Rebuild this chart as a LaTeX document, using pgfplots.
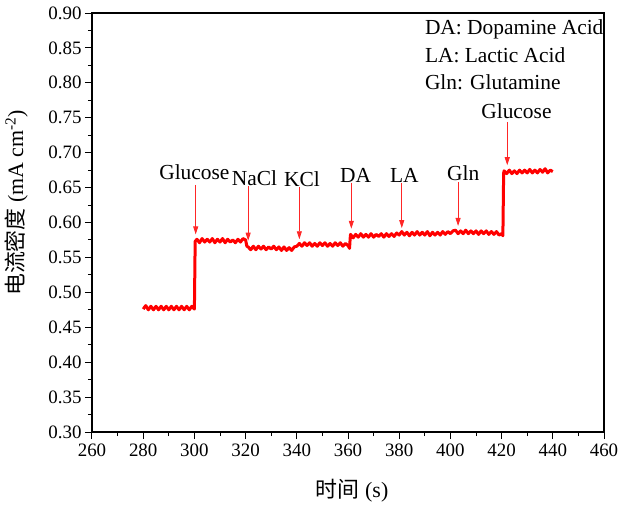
\documentclass[border=0pt]{standalone}
\usepackage{fontspec}
\setmainfont{Liberation Serif}
\newfontfamily\cjk{Noto Sans CJK SC}
\usepackage{pgfplots}
\pgfplotsset{compat=1.18}
\usetikzlibrary{arrows.meta}

% i-t response: current density vs time
\pgfplotstableread{
t j
280 0.476
281 0.481
282 0.475
283 0.480
284 0.475
285 0.480
286 0.475
287 0.480
288 0.475
289 0.480
290 0.475
291 0.480
292 0.475
293 0.480
294 0.475
295 0.480
296 0.475
297 0.480
298 0.475
299 0.480
300 0.476
300.3 0.573
301 0.576
302 0.571
303 0.577
304 0.572
305 0.576
306 0.572
307 0.577
308 0.571
309 0.576
310 0.572
311 0.577
312 0.571
313 0.576
314 0.572
315 0.575
316 0.571
317 0.576
318 0.572
319 0.577
320 0.575
320.5 0.566
321 0.565
322 0.561
323 0.566
324 0.561
325 0.566
326 0.562
327 0.566
328 0.561
329 0.565
330 0.562
331 0.566
332 0.561
333 0.565
334 0.560
335 0.565
336 0.560
337 0.564
338 0.560
339 0.565
340 0.566
341 0.570
342 0.566
343 0.571
344 0.567
345 0.571
346 0.566
347 0.570
348 0.566
349 0.571
350 0.567
351 0.571
352 0.566
353 0.570
354 0.566
355 0.571
356 0.567
357 0.571
358 0.566
359 0.570
360 0.567
360.6 0.563
360.9 0.580
361 0.583
362 0.578
363 0.583
364 0.579
365 0.584
366 0.579
367 0.583
368 0.579
369 0.584
370 0.579
371 0.583
372 0.580
373 0.584
374 0.579
375 0.584
376 0.580
377 0.584
378 0.580
379 0.585
380 0.582
381 0.587
382 0.582
383 0.586
384 0.581
385 0.586
386 0.582
387 0.587
388 0.582
389 0.586
390 0.582
391 0.587
392 0.581
393 0.586
394 0.582
395 0.586
396 0.582
397 0.587
398 0.583
399 0.587
400 0.584
401 0.588
402 0.589
403 0.584
404 0.588
405 0.584
406 0.589
407 0.584
408 0.588
409 0.584
410 0.588
411 0.583
412 0.588
413 0.584
414 0.588
415 0.583
416 0.587
417 0.583
418 0.587
419 0.582
420 0.584
420.5 0.581
420.8 0.671
421 0.674
422 0.670
423 0.675
424 0.670
425 0.674
426 0.670
427 0.675
428 0.671
429 0.675
430 0.671
431 0.676
432 0.671
433 0.675
434 0.671
435 0.676
436 0.672
437 0.677
438 0.671
439 0.675
440 0.673
}\itdata

\begin{document}
\begin{tikzpicture}
\path[use as bounding box] (-92bp,-73bp) rectangle (537bp,432bp);
\begin{axis}[
  scale only axis,
  width=512bp, height=419bp,
  xmin=260, xmax=460, ymin=0.30, ymax=0.90,
  xtick={260,280,...,460},
  xticklabels={260,280,300,320,340,360,380,400,420,440,460},
  ytick={0.30,0.35,...,0.901},
  yticklabels={0.30,0.35,0.40,0.45,0.50,0.55,0.60,0.65,0.70,0.75,0.80,0.85,0.90},
  minor x tick num=1, minor y tick num=1,
  tick align=outside,
  xtick pos=bottom, ytick pos=left,
  major tick length=7bp, minor tick length=4bp,
  axis line style={line width=1.2bp},
  every tick/.style={black, line width=1bp},
  every minor tick/.style={black, line width=1bp},
  ticklabel style={font=\rmfamily\fontsize{19}{22}\selectfont},
  xticklabel style={yshift=-1bp},
  xlabel={{\cjk 时间} (s)},
  ylabel={{\cjk 电流密度} (mA cm\textsuperscript{-2})},
  label style={font=\fontsize{22}{25}\selectfont},
  xlabel style={at={(axis description cs:0.508,0)}, anchor=center, yshift=-59bp},
  ylabel style={at={(axis description cs:-0.148,0.547)}, anchor=center},
]
\addplot[red, line width=3bp, line join=round] table[x=t, y=j] {\itdata};

% additions: arrows and labels
\begin{scope}[red!85!white, line width=0.8bp, -{Triangle[width=5bp,length=8bp]}]
\draw (axis cs:300.5,0.654) -- (axis cs:300.5,0.583);
\draw (axis cs:321,0.652) -- (axis cs:321,0.574);
\draw (axis cs:341,0.651) -- (axis cs:341,0.576);
\draw (axis cs:361.3,0.657) -- (axis cs:361.3,0.591);
\draw (axis cs:381,0.657) -- (axis cs:381,0.592);
\draw (axis cs:403,0.658) -- (axis cs:403,0.595);
\draw (axis cs:422.2,0.744) -- (axis cs:422.2,0.682);
\end{scope}
\begin{scope}[every node/.style={font=\fontsize{21.5}{24}\selectfont, inner sep=0pt}]
\node at (axis cs:300,0.672) {Glucose};
\node at (axis cs:323.5,0.664) {NaCl};
\node at (axis cs:342,0.662) {KCl};
\node at (axis cs:363,0.668) {DA};
\node at (axis cs:382,0.668) {LA};
\node at (axis cs:405,0.671) {Gln};
\node at (axis cs:425.8,0.760) {Glucose};
\node[anchor=west] at (axis cs:390,0.876) {DA: Dopamine Acid};
\node[anchor=west] at (axis cs:390,0.839) {LA: Lactic Acid};
\node[anchor=west] at (axis cs:390,0.801) {Gln: Glutamine};
\end{scope}
\end{axis}
\end{tikzpicture}
\end{document}
